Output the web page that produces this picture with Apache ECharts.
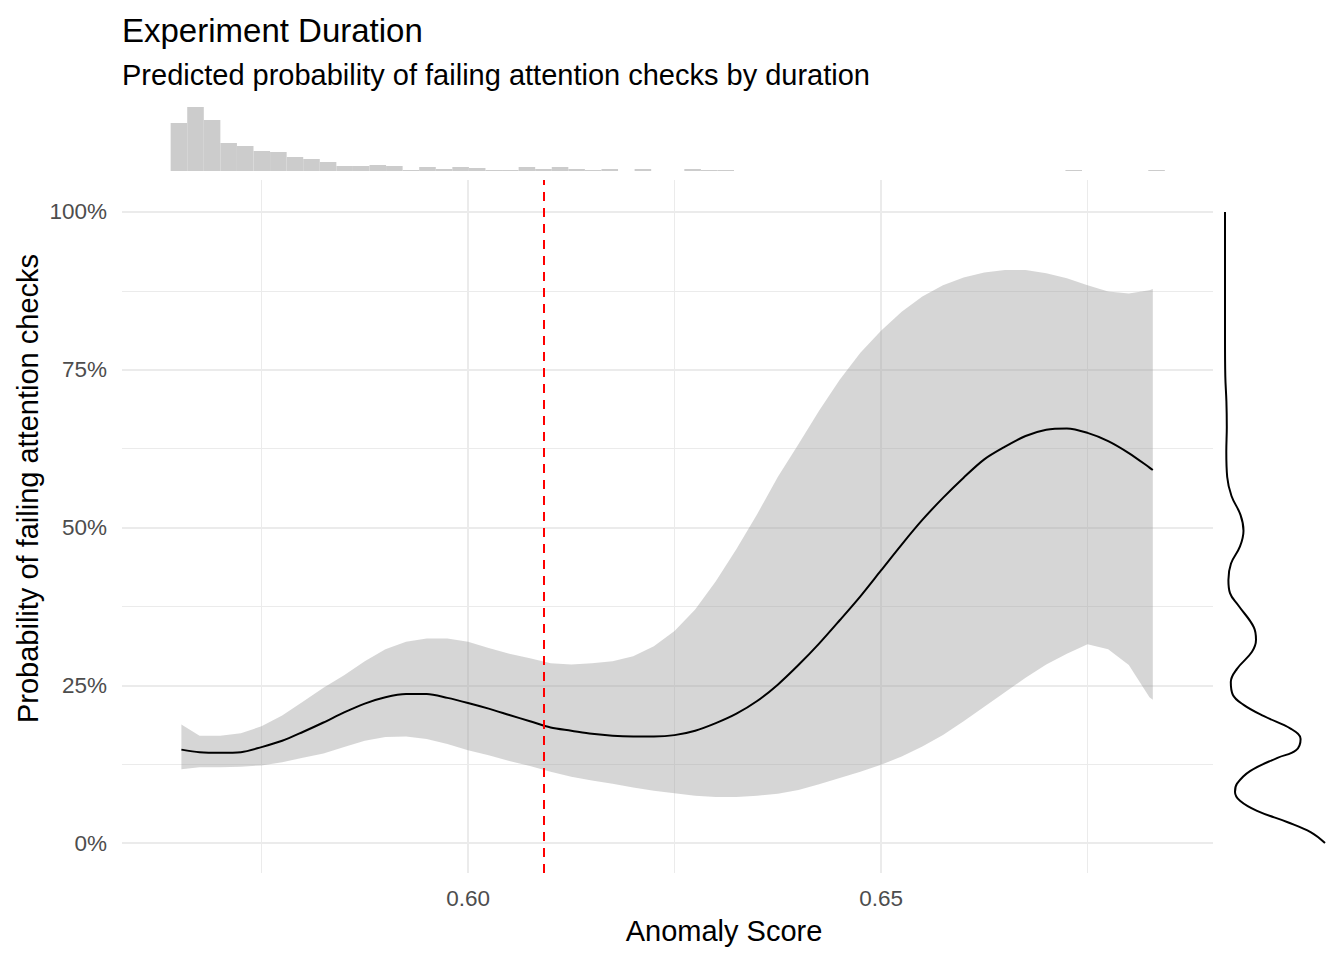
<!DOCTYPE html>
<html><head><meta charset="utf-8">
<script src="https://cdn.jsdelivr.net/npm/echarts@6/dist/echarts.min.js"></script>
<style>html,body{margin:0;padding:0;background:#fff}#c{width:1344px;height:960px}</style>
</head><body><div id="c"></div>
<script>
// ---- data ----
const xs = [0.5653, 0.5675, 0.5700, 0.5725, 0.5750, 0.5775, 0.5800, 0.5825, 0.5850, 0.5875,
            0.5900, 0.5925, 0.5950, 0.5975, 0.6000, 0.6025, 0.6050, 0.6075, 0.6100, 0.6125,
            0.6150, 0.6175, 0.6200, 0.6225, 0.6250, 0.6275, 0.6300, 0.6325, 0.6350, 0.6375,
            0.6400, 0.6425, 0.6450, 0.6475, 0.6500, 0.6525, 0.6550, 0.6575, 0.6600, 0.6625,
            0.6650, 0.6675, 0.6700, 0.6725, 0.6750, 0.6775, 0.6800, 0.6825, 0.6829];
const fit = [0.148, 0.144, 0.143, 0.144, 0.152, 0.162, 0.176, 0.191, 0.207, 0.221,
             0.231, 0.236, 0.236, 0.230, 0.222, 0.213, 0.203, 0.193, 0.183, 0.178,
             0.173, 0.170, 0.169, 0.169, 0.171, 0.178, 0.190, 0.205, 0.225, 0.251,
             0.282, 0.316, 0.353, 0.391, 0.432, 0.473, 0.512, 0.547, 0.579, 0.608,
             0.628, 0.645, 0.655, 0.657, 0.650, 0.637, 0.618, 0.595, 0.591];
const upper = [0.188, 0.170, 0.170, 0.174, 0.185, 0.202, 0.224, 0.246, 0.266, 0.288,
               0.307, 0.319, 0.324, 0.324, 0.319, 0.309, 0.300, 0.293, 0.285, 0.283,
               0.285, 0.288, 0.296, 0.312, 0.336, 0.370, 0.415, 0.466, 0.521, 0.580,
               0.632, 0.685, 0.734, 0.777, 0.812, 0.842, 0.866, 0.884, 0.896, 0.904,
               0.908, 0.908, 0.903, 0.895, 0.884, 0.874, 0.871, 0.876, 0.878];
const lower = [0.117, 0.120, 0.120, 0.121, 0.123, 0.128, 0.135, 0.142, 0.152, 0.162,
               0.168, 0.169, 0.165, 0.157, 0.147, 0.139, 0.130, 0.122, 0.113, 0.105,
               0.099, 0.094, 0.088, 0.083, 0.079, 0.075, 0.073, 0.073, 0.075, 0.078,
               0.084, 0.093, 0.103, 0.113, 0.124, 0.137, 0.153, 0.171, 0.193, 0.216,
               0.239, 0.262, 0.283, 0.300, 0.315, 0.307, 0.282, 0.231, 0.227];
const cutoff = 0.6092;
const histStart = 0.5640;
const histWidth = 0.002006;
const histCounts = [48, 64, 51, 28, 25, 20, 19, 14, 12, 9,
                    5, 5, 6, 5, 1, 4, 2, 4, 3, 1,
                    1, 4, 2, 4, 2, 1, 2, 0, 2, 0,
                    0, 2, 1, 1, 0, 0, 0, 0, 0, 0,
                    0, 0, 0, 0, 0, 0, 0, 0, 0, 0,
                    0, 0, 0, 0, 1, 0, 0, 0, 0, 1];
const densY = [1.0, 0.90, 0.80, 0.74, 0.70, 0.66, 0.62, 0.58, 0.55,
               0.52, 0.495, 0.47, 0.443, 0.417, 0.396, 0.376, 0.342, 0.322, 0.303,
               0.276, 0.255, 0.235, 0.219, 0.201, 0.181, 0.165, 0.147, 0.135, 0.114,
               0.094, 0.081, 0.067, 0.051, 0.033, 0.017, 0.0];
const densV = [0, 0, 0, 0.003, 0.014, 0.018, 0.013, 0.022, 0.065,
               0.155, 0.185, 0.15, 0.06, 0.034, 0.05, 0.136, 0.288, 0.31, 0.27,
               0.12, 0.058, 0.078, 0.186, 0.39, 0.66, 0.756, 0.71, 0.525, 0.25,
               0.12, 0.10, 0.15, 0.32, 0.627, 0.86, 1.0];
const xMajor = [0.60, 0.65];
const xMinor = [0.575, 0.625, 0.675];
const yMajor = [0, 0.25, 0.5, 0.75, 1];
const yMinor = [0.125, 0.375, 0.625, 0.875];
const titleText = 'Experiment Duration';
const subtitleText = 'Predicted probability of failing attention checks by duration';
const xTitle = 'Anomaly Score';
const yTitle = 'Probability of failing attention checks';

// ---- chart ----
const FONT = '"Liberation Sans", Arial, sans-serif';
const X0 = 0.55811, X1 = 0.69019, Y0 = -0.0475, Y1 = 1.0507;
const chart = echarts.init(document.getElementById('c'), null, {renderer: 'svg', width: 1344, height: 960});

const gridMarks = [];
xMajor.forEach(v => gridMarks.push({xAxis: v, lineStyle: {color: '#EBEBEB', width: 2, type: 'solid'}}));
xMinor.forEach(v => gridMarks.push({xAxis: v, lineStyle: {color: '#EBEBEB', width: 1, type: 'solid'}}));
yMajor.forEach(v => gridMarks.push({yAxis: v, lineStyle: {color: '#EBEBEB', width: 2, type: 'solid'}}));
yMinor.forEach(v => gridMarks.push({yAxis: v, lineStyle: {color: '#EBEBEB', width: 1, type: 'solid'}}));

const hidden = {show: false};
const option = {
  animation: false,
  backgroundColor: '#ffffff',
  grid: [
    {left: 122, right: 131, top: 180, bottom: 87, outerBoundsMode: 'none'},
    {left: 122, right: 131, top: 100, bottom: 789, outerBoundsMode: 'none'},
    {left: 1215, right: 14, top: 180, bottom: 87, outerBoundsMode: 'none'}
  ],
  xAxis: [
    {type: 'value', gridIndex: 0, min: X0, max: X1,
     axisLine: hidden, axisTick: hidden, splitLine: hidden,
     axisLabel: {customValues: xMajor, formatter: v => v.toFixed(2), color: '#4D4D4D',
                 fontSize: 22.5, fontFamily: FONT, margin: 14}},
    {type: 'value', gridIndex: 1, min: X0, max: X1, show: false},
    {type: 'value', gridIndex: 2, min: -0.1, max: 1.05, show: false}
  ],
  yAxis: [
    {type: 'value', gridIndex: 0, min: Y0, max: Y1,
     axisLine: hidden, axisTick: hidden, splitLine: hidden,
     axisLabel: {customValues: yMajor, formatter: v => Math.round(v * 100) + '%', color: '#4D4D4D',
                 fontSize: 22.5, fontFamily: FONT, margin: 15}},
    {type: 'value', gridIndex: 1, min: 0, max: 71, show: false},
    {type: 'value', gridIndex: 2, min: Y0, max: Y1, show: false}
  ],
  series: [
    { // gridlines
      type: 'line', xAxisIndex: 0, yAxisIndex: 0, z: 0, silent: true,
      data: xs.map((x, i) => [x, fit[i]]), symbol: 'none',
      lineStyle: {opacity: 0},
      markLine: {silent: true, symbol: 'none', z: 1, precision: 8, label: {show: false},
                 emphasis: {disabled: true}, data: gridMarks}
    },
    { // ribbon
      type: 'custom', xAxisIndex: 0, yAxisIndex: 0, z: 2, silent: true,
      data: xs.map((x, i) => [x, lower[i], upper[i]]),
      encode: {x: 0, y: [1, 2]},
      renderItem: function (params, api) {
        if (params.dataIndex !== 0) return null;
        const pts = [];
        for (let i = 0; i < xs.length; i++) pts.push(api.coord([xs[i], upper[i]]));
        for (let i = xs.length - 1; i >= 0; i--) pts.push(api.coord([xs[i], lower[i]]));
        return {type: 'polygon', shape: {points: pts}, style: {fill: 'rgba(153,153,153,0.4)'}};
      }
    },
    { // fitted line
      type: 'line', xAxisIndex: 0, yAxisIndex: 0, z: 3, silent: true,
      data: xs.map((x, i) => [x, fit[i]]), symbol: 'none', smooth: 0.3,
      lineStyle: {color: '#000000', width: 2},
      markLine: {silent: true, symbol: 'none', z: 4, precision: 8, label: {show: false},
                 emphasis: {disabled: true},
                 lineStyle: {color: '#FF0000', width: 2, type: [9, 7]},
                 data: [{xAxis: cutoff}]}
    },
    { // top histogram
      type: 'custom', xAxisIndex: 1, yAxisIndex: 1, z: 2, silent: true,
      data: histCounts.map((c, i) => [histStart + i * histWidth, c]),
      renderItem: function (params, api) {
        const x0 = api.value(0), c = api.value(1);
        if (!c) return null;
        const p1 = api.coord([x0, c]);
        const p2 = api.coord([x0 + histWidth, 0]);
        return {type: 'rect', shape: {x: p1[0], y: p1[1], width: p2[0] - p1[0], height: p2[1] - p1[1]},
                style: {fill: '#CCCCCC'}};
      }
    },
    { // right density
      type: 'line', xAxisIndex: 2, yAxisIndex: 2, z: 3, silent: true,
      data: densV.map((v, i) => [v, densY[i]]), symbol: 'none', smooth: 0.4,
      lineStyle: {color: '#000000', width: 2}
    }
  ],
  graphic: [
    {type: 'text', x: 122, y: 30, silent: true,
     style: {text: titleText, fontSize: 33, fontFamily: FONT, fill: '#000', align: 'left', verticalAlign: 'middle'}},
    {type: 'text', x: 122, y: 75, silent: true,
     style: {text: subtitleText, fontSize: 29, fontFamily: FONT, fill: '#000', align: 'left', verticalAlign: 'middle'}},
    {type: 'text', x: 724, y: 930.5, silent: true,
     style: {text: xTitle, fontSize: 29, fontFamily: FONT, fill: '#000', align: 'center', verticalAlign: 'middle'}},
    {type: 'text', x: 28, y: 488.5, rotation: Math.PI / 2, silent: true,
     style: {text: yTitle, fontSize: 29, fontFamily: FONT, fill: '#000', align: 'center', verticalAlign: 'middle'}}
  ]
};
chart.setOption(option);
</script>
</body></html>
